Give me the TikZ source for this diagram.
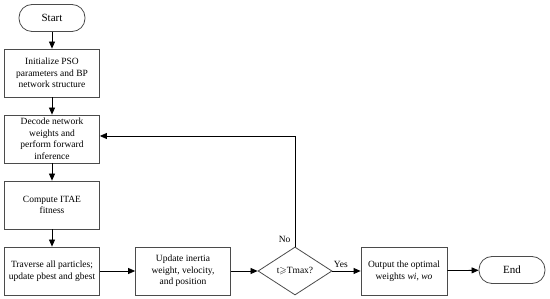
\documentclass[tikz,border=0pt]{standalone}
\usepackage{amssymb}
\usepackage{fontspec}
\setmainfont{Liberation Serif}
\usetikzlibrary{arrows.meta,positioning,shapes.geometric}
\definecolor{BoxGray}{RGB}{75,75,75}

\begin{document}
\begin{tikzpicture}[x=1pt, y=-1pt,
    every node/.style={font=\fontsize{9.5}{11.5}\selectfont},
    procbox/.style={draw=BoxGray, line width=0.8pt, minimum width=95pt, minimum height=48pt, align=center, inner sep=1pt},
    termbox/.style={draw=BoxGray, line width=0.8pt, rounded corners=13pt, minimum width=66pt, minimum height=27pt, font=\fontsize{11}{13}\selectfont},
    decision/.style={diamond, draw=BoxGray, line width=0.8pt, aspect=1.54, minimum width=74pt, minimum height=48pt, inner sep=0pt},
    flow/.style={draw=black, line width=0.8pt, -{Triangle[length=7pt,width=6pt]}}
]
\useasboundingbox (0,0) rectangle (550,299);

\node[termbox] (start) at (52,18) {Start};
\node[procbox] (init) at (52,73) {Initialize PSO\\parameters and BP\\network structure};
\node[procbox] (decode) at (52,139) {Decode network\\weights and\\perform forward\\inference};
\node[procbox] (compute) at (52,205) {Compute ITAE\\fitness};
\node[procbox] (traverse) at (52,271) {Traverse all particles;\\update pbest and gbest};
\node[procbox] (update) at (183,271) {Update inertia\\weight, velocity,\\and position};
\node[decision] (check) at (295,271) {t$\geqslant$Tmax?};
\node[procbox, minimum width=86pt] (output) at (404,271) {Output the optimal\\weights \textit{wi}, \textit{wo}};
\node[termbox] (stop) at (512,270) {End};
\coordinate (loop) at (295,136);

% main flow
\draw[flow] (start) -- (init);
\draw[flow] (init) -- (decode);
\draw[flow] (decode) -- (compute);
\draw[flow] (compute) -- (traverse);
\draw[flow] (traverse) -- (update);
\draw[flow] (update) -- (check);
\draw[flow] (check) -- node[above, pos=0.3] {Yes} (output);
\draw[flow] (output) -- (stop);

% back to decoding
\draw[flow] (check.north) -- (loop) -- (decode.east |- loop);
\node[above left=0pt and 1pt of check.north] (no) {No};
\end{tikzpicture}
\end{document}
